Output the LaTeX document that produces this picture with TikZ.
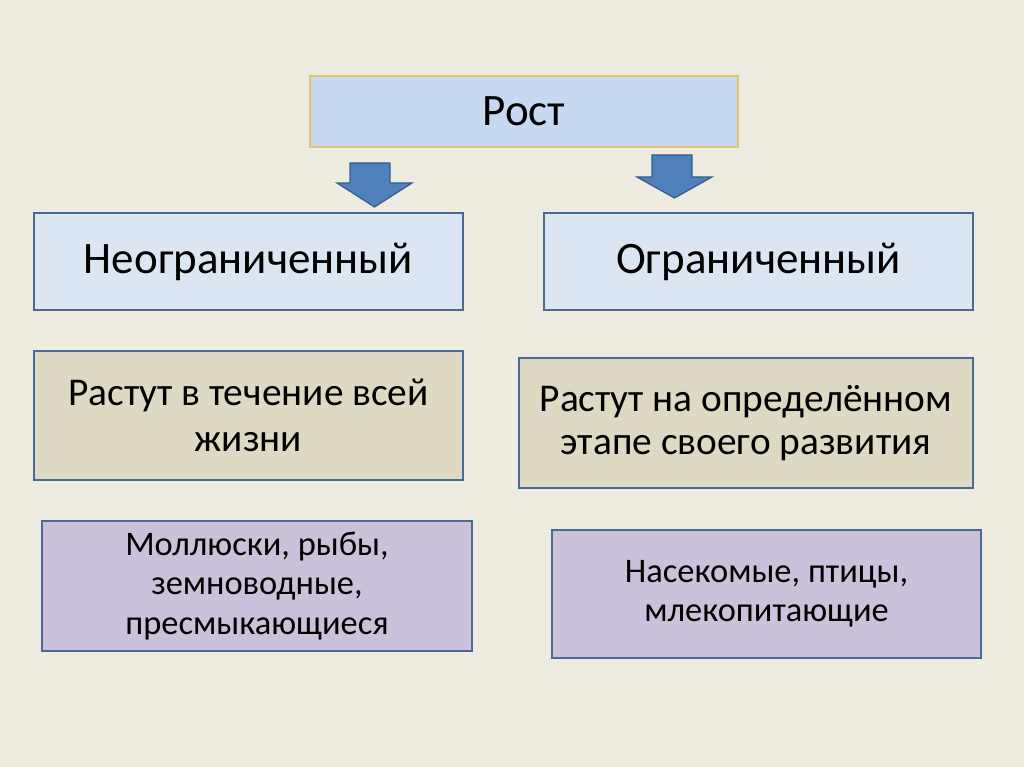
\documentclass[tikz,border=0pt]{standalone}
\usepackage{fontspec}
\setmainfont{Carlito}
\usetikzlibrary{positioning}

\definecolor{bgcol}{HTML}{EEECE1}
\definecolor{topfill}{HTML}{C6D9F1}
\definecolor{topline}{HTML}{E3C46A}
\definecolor{bluefill}{HTML}{DCE6F2}
\definecolor{boxline}{HTML}{4A6A94}
\definecolor{tanfill}{HTML}{DDD9C3}
\definecolor{lilacfill}{HTML}{CCC1DA}
\definecolor{arrfill}{HTML}{4F81BD}
\definecolor{arrline}{HTML}{385D8A}

\tikzset{
  topbox/.style={draw=topline, line width=0.9pt, fill=topfill, minimum width=10.7cm, minimum height=1.775cm, font=\fontsize{32}{38}\selectfont},
  kindbox/.style={draw=boxline, line width=1.5pt, fill=bluefill, minimum width=10.725cm, minimum height=2.425cm, font=\fontsize{32}{38}\selectfont},
  tanbox/.style={draw=boxline, line width=1.5pt, fill=tanfill, align=center},
  lilacbox/.style={draw=boxline, line width=1.5pt, fill=lilacfill, align=center, font=\fontsize{24.5}{28}\selectfont},
  blockarrow/.style={draw=arrline, line width=0.9pt, fill=arrfill, line join=miter}
}

\begin{document}
\begin{tikzpicture} [scale = 1]
\fill[bgcol] (0, 0) rectangle (25.6, 19.175);
\node[topbox] (rost) at (13.1, 16.3875){Рост};
% arrows
\draw[blockarrow] (8.75, 15.1) -- (9.75, 15.1) -- (9.75, 14.6) -- (10.3, 14.6) -- (9.3625, 14.0) -- (8.425, 14.6) -- (8.75, 14.6) -- cycle;
\draw[blockarrow] (16.3, 15.3) -- (17.3, 15.3) -- (17.3, 14.75) -- (17.8, 14.75) -- (16.8625, 14.225) -- (15.925, 14.75) -- (16.3, 14.75) -- cycle;
\node[kindbox] (unlim) at (6.2125, 12.6375){Неограниченный};
\node[kindbox] (lim) at (18.9625, 12.6375){Ограниченный};
\node[tanbox, font=\fontsize{28}{33}\selectfont, minimum width=10.725cm, minimum height=3.225cm] (lifelong) at (6.2125, 8.7875){Растут в течение всей\\жизни};
\node[tanbox, font=\fontsize{28}{31}\selectfont, minimum width=11.35cm, minimum height=3.25cm] (stage) at (18.65, 8.6){Растут на определённом\\этапе своего развития};
\node[lilacbox, minimum width=10.75cm, minimum height=3.25cm] (molluscs) at (6.425, 4.525){Моллюски, рыбы,\\земноводные,\\пресмыкающиеся};
\node[lilacbox, minimum width=10.725cm, minimum height=3.2cm] (insects) at (19.1625, 4.325){Насекомые, птицы,\\млекопитающие};
\end{tikzpicture}
\end{document}
